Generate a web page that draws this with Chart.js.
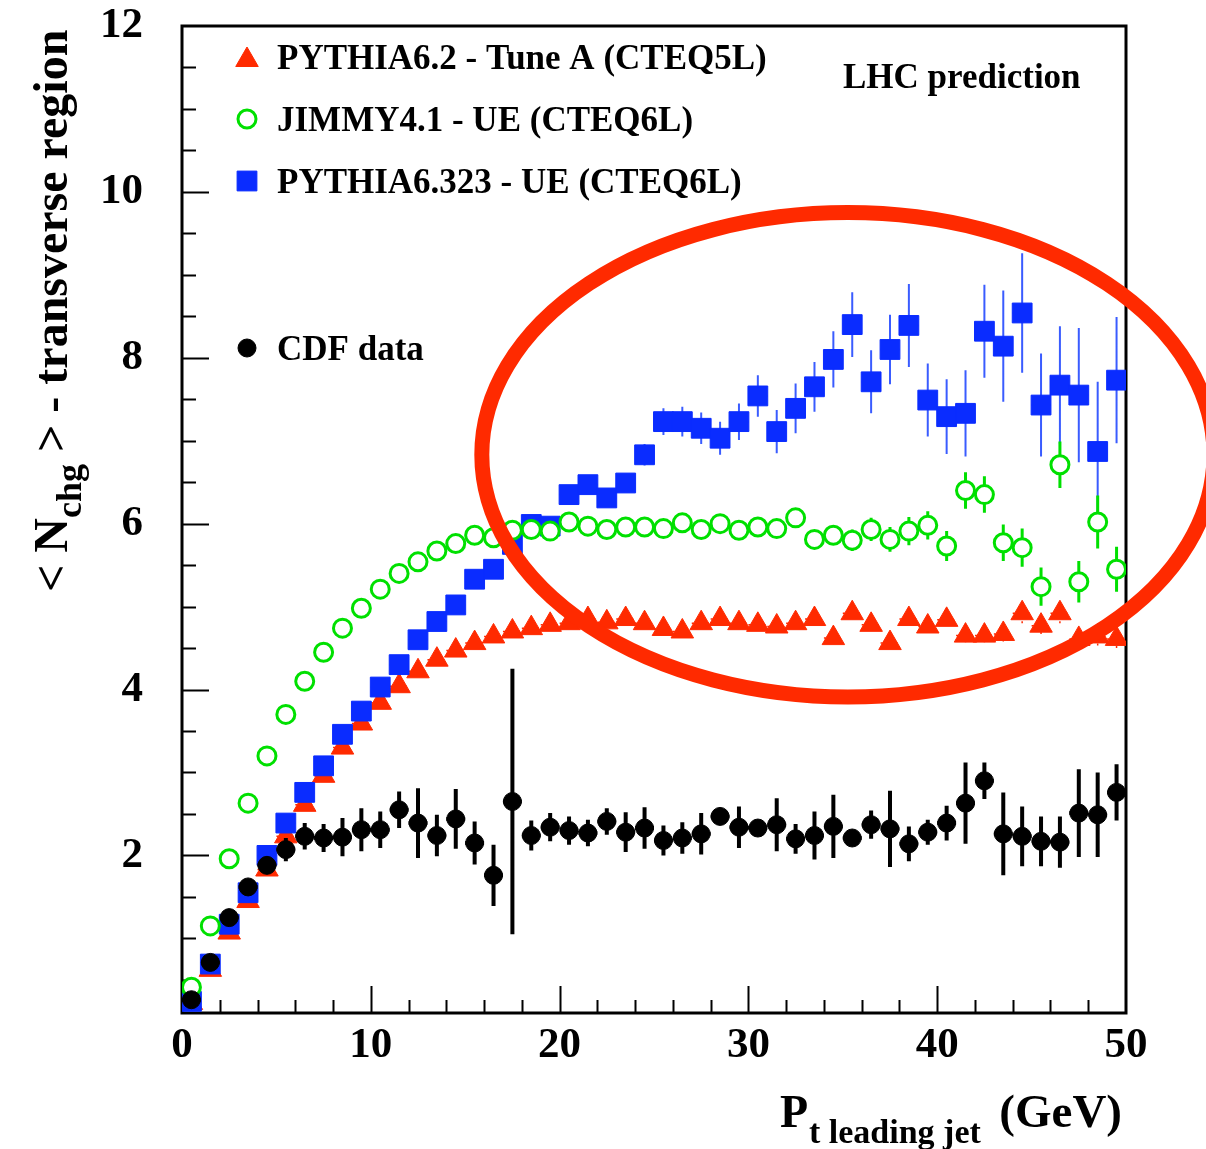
<!DOCTYPE html>
<html>
<head>
<meta charset="utf-8">
<script src="https://cdn.jsdelivr.net/npm/chart.js@4.4.0/dist/chart.umd.min.js"></script>
<style>
  body { margin: 0; background: #fff; }
  #nchg { display: block; }
</style>
</head>
<body>
<canvas id="nchg" width="1206" height="1149"></canvas>
<script>
// bin centres (GeV) of the leading-jet Pt histogram
const ptBins = [0.5, 1.5, 2.5, 3.5, 4.5, 5.5, 6.5, 7.5, 8.5, 9.5,
  10.5, 11.5, 12.5, 13.5, 14.5, 15.5, 16.5, 17.5, 18.5, 19.5,
  20.5, 21.5, 22.5, 23.5, 24.5, 25.5, 26.5, 27.5, 28.5, 29.5,
  30.5, 31.5, 32.5, 33.5, 34.5, 35.5, 36.5, 37.5, 38.5, 39.5,
  40.5, 41.5, 42.5, 43.5, 44.5, 45.5, 46.5, 47.5, 48.5, 49.5];
const binHalfWidth = 0.5;

const cdfData = [0.26, 0.71, 1.25, 1.62, 1.88, 2.07, 2.23, 2.21, 2.22, 2.31,
  2.31, 2.55, 2.39, 2.24, 2.44, 2.15, 1.76, 2.65, 2.24, 2.34,
  2.30, 2.27, 2.41, 2.28, 2.33, 2.18, 2.21, 2.26, 2.47, 2.34,
  2.33, 2.37, 2.20, 2.24, 2.35, 2.21, 2.37, 2.32, 2.14, 2.28,
  2.39, 2.63, 2.90, 2.26, 2.23, 2.17, 2.16, 2.51, 2.49, 2.76];
const cdfErr = [0.03, 0.03, 0.04, 0.05, 0.07, 0.14, 0.16, 0.17, 0.23, 0.26,
  0.22, 0.22, 0.42, 0.25, 0.36, 0.26, 0.37, 1.60, 0.18, 0.17,
  0.17, 0.16, 0.16, 0.24, 0.25, 0.18, 0.19, 0.25, 0.07, 0.25,
  0.05, 0.32, 0.18, 0.29, 0.38, 0.07, 0.17, 0.46, 0.21, 0.15,
  0.21, 0.49, 0.22, 0.50, 0.36, 0.30, 0.31, 0.53, 0.51, 0.34];

const tuneA = [0.22, 0.62, 1.07, 1.45, 1.83, 2.23, 2.61, 2.96, 3.30, 3.59,
  3.84, 4.04, 4.22, 4.36, 4.47, 4.56, 4.64, 4.70, 4.74, 4.78,
  4.80, 4.85, 4.81, 4.85, 4.80, 4.73, 4.70, 4.80, 4.85, 4.80,
  4.78, 4.76, 4.80, 4.85, 4.62, 4.92, 4.78, 4.56, 4.85, 4.76,
  4.84, 4.65, 4.65, 4.67, 4.92, 4.77, 4.92, 4.61, 4.64, 4.61];
const tuneAErr = [0.02, 0.02, 0.03, 0.03, 0.03, 0.03, 0.03, 0.03, 0.03, 0.03,
  0.03, 0.03, 0.03, 0.03, 0.03, 0.03, 0.03, 0.03, 0.03, 0.04,
  0.04, 0.04, 0.04, 0.04, 0.04, 0.04, 0.04, 0.04, 0.05, 0.05,
  0.05, 0.05, 0.05, 0.05, 0.05, 0.06, 0.06, 0.06, 0.07, 0.07,
  0.07, 0.08, 0.08, 0.09, 0.12, 0.10, 0.12, 0.10, 0.11, 0.11];

const jimmyUE = [0.41, 1.15, 1.96, 2.63, 3.20, 3.70, 4.10, 4.45, 4.74, 4.98,
  5.21, 5.40, 5.54, 5.67, 5.76, 5.86, 5.83, 5.92, 5.93, 5.91,
  6.02, 5.97, 5.93, 5.96, 5.96, 5.94, 6.01, 5.93, 6.00, 5.92,
  5.96, 5.94, 6.07, 5.81, 5.86, 5.80, 5.93, 5.81, 5.91, 5.98,
  5.73, 6.40, 6.35, 5.77, 5.71, 5.24, 6.71, 5.30, 6.02, 5.45];
const jimmyErr = [0.02, 0.02, 0.02, 0.03, 0.03, 0.03, 0.03, 0.03, 0.03, 0.03,
  0.03, 0.03, 0.04, 0.04, 0.04, 0.04, 0.04, 0.05, 0.05, 0.05,
  0.05, 0.05, 0.06, 0.06, 0.06, 0.06, 0.07, 0.07, 0.07, 0.07,
  0.08, 0.08, 0.08, 0.10, 0.10, 0.13, 0.14, 0.15, 0.17, 0.17,
  0.18, 0.22, 0.22, 0.22, 0.23, 0.23, 0.28, 0.25, 0.32, 0.27];

const pythia323 = [0.24, 0.69, 1.17, 1.55, 2.00, 2.39, 2.76, 3.08, 3.46, 3.74,
  4.03, 4.30, 4.60, 4.82, 5.02, 5.33, 5.45, 5.75, 5.99, 5.97,
  6.35, 6.47, 6.31, 6.49, 6.83, 7.23, 7.23, 7.15, 7.03, 7.23,
  7.54, 7.11, 7.39, 7.65, 7.98, 8.40, 7.71, 8.10, 8.39, 7.49,
  7.29, 7.33, 8.32, 8.14, 8.54, 7.43, 7.67, 7.55, 6.87, 7.73];
const pythia323Err = [0.02, 0.02, 0.03, 0.03, 0.03, 0.03, 0.03, 0.04, 0.04, 0.04,
  0.04, 0.04, 0.05, 0.05, 0.05, 0.05, 0.06, 0.06, 0.06, 0.07,
  0.08, 0.08, 0.09, 0.10, 0.13, 0.16, 0.18, 0.19, 0.20, 0.22,
  0.25, 0.26, 0.30, 0.30, 0.34, 0.39, 0.38, 0.42, 0.50, 0.44,
  0.45, 0.52, 0.56, 0.67, 0.72, 0.62, 0.71, 0.81, 0.84, 0.76];

const xTickLabels = [0, 10, 20, 30, 40, 50];
const yTickLabels = [2, 4, 6, 8, 10, 12];
const xMinorStep = 2;
const yMinorStep = 0.5;

// hand-drawn highlight ellipse, in data units (centre Pt, centre Nchg, half-widths)
const highlight = { x: 35.27, y: 6.83, rx: 19.39, ry: 2.92 };

const serif = '"Liberation Serif", "Times New Roman", serif';

function points(vals) {
  return ptBins.map((x, i) => ({ x: x, y: vals[i] }));
}

// error bars as broken line segments (vertical + horizontal half-bin)
function errorBars(vals, errs, withX) {
  const out = [];
  ptBins.forEach((x, i) => {
    out.push({ x: x, y: vals[i] - errs[i] }, { x: x, y: vals[i] + errs[i] }, { x: x, y: null });
    if (withX) {
      out.push({ x: x - binHalfWidth, y: vals[i] }, { x: x + binHalfWidth, y: vals[i] }, { x: x, y: null });
    }
  });
  return out;
}

const RED = '#ff2a00';
const GREEN = '#00e000';
const BLUE = '#0a2cff';
const BLUE_ERR = '#3a5cff';

const decorations = {
  id: 'decorations',
  beforeDatasetsDraw(chart) {
    const { ctx, chartArea: a, scales: { x, y } } = chart;
    ctx.save();
    ctx.strokeStyle = '#000';
    ctx.lineWidth = 2;
    ctx.beginPath();
    for (let v = yMinorStep; v < 12; v += yMinorStep) {
      const py = Math.round(y.getPixelForValue(v)) + 0.5;
      const len = yTickLabels.includes(v) ? 27 : 14;
      ctx.moveTo(a.left, py);
      ctx.lineTo(a.left + len, py);
    }
    for (let v = xMinorStep; v < 50; v += xMinorStep) {
      const px = Math.round(x.getPixelForValue(v)) + 0.5;
      const len = xTickLabels.includes(v) ? 27 : 13;
      ctx.moveTo(px, a.bottom);
      ctx.lineTo(px, a.bottom - len);
    }
    ctx.stroke();
    ctx.lineWidth = 3;
    ctx.strokeRect(a.left, a.top, a.right - a.left, a.bottom - a.top);
    ctx.restore();
  },
  afterDraw(chart) {
    const { ctx, chartArea: a, scales: { x, y } } = chart;
    ctx.save();

    // legend
    const legend = [
      { text: 'PYTHIA6.2 - Tune A (CTEQ5L)', style: 'triangle', r: 13, fill: RED, stroke: RED, bw: 1, cy: 57 },
      { text: 'JIMMY4.1 - UE (CTEQ6L)', style: 'circle', r: 9, fill: '#fff', stroke: GREEN, bw: 3, cy: 119 },
      { text: 'PYTHIA6.323 - UE (CTEQ6L)', style: 'rect', r: 14, fill: BLUE, stroke: BLUE, bw: 1, cy: 181 },
      { text: 'CDF data', style: 'circle', r: 9, fill: '#000', stroke: '#000', bw: 1, cy: 348 }
    ];
    ctx.font = 'bold 35px ' + serif;
    ctx.textBaseline = 'alphabetic';
    ctx.textAlign = 'left';
    legend.forEach(item => {
      ctx.fillStyle = item.fill;
      ctx.strokeStyle = item.stroke;
      ctx.lineWidth = item.bw;
      Chart.helpers.drawPoint(ctx, { pointStyle: item.style, radius: item.r, rotation: 0, borderWidth: item.bw },
        a.left + 65, item.cy + (item.style === 'triangle' ? 3 : 0));
      ctx.fillStyle = '#000';
      ctx.fillText(item.text, a.left + 95, item.cy + 12);
    });

    ctx.fillText('LHC prediction', 843, 88);

    // y title
    ctx.save();
    ctx.translate(67, 592);
    ctx.rotate(-Math.PI / 2);
    let cx = 0;
    ctx.font = 'bold 48px ' + serif;
    ctx.fillText('< N', cx, 0);
    cx += ctx.measureText('< N').width;
    ctx.font = 'bold 36px ' + serif;
    ctx.fillText('chg', cx, 14);
    cx += ctx.measureText('chg').width;
    ctx.font = 'bold 48px ' + serif;
    ctx.fillText(' > - transverse region', cx, 0);
    ctx.restore();

    // x title
    ctx.font = 'bold 46px ' + serif;
    ctx.fillText('P', 780, 1127);
    ctx.font = 'bold 34px ' + serif;
    ctx.fillText('t leading jet', 809, 1143);
    ctx.font = 'bold 47px ' + serif;
    ctx.textAlign = 'right';
    ctx.fillText('(GeV)', 1122, 1127);

    // highlight ellipse
    const ex = x.getPixelForValue(highlight.x);
    const ey = y.getPixelForValue(highlight.y);
    const erx = x.getPixelForValue(highlight.x + highlight.rx) - ex;
    const ery = ey - y.getPixelForValue(highlight.y + highlight.ry);
    ctx.strokeStyle = RED;
    ctx.lineWidth = 15;
    ctx.beginPath();
    ctx.ellipse(ex, ey, erx, ery, 0, 0, Math.PI * 2);
    ctx.stroke();

    ctx.restore();
  }
};

const tickFont = { family: serif, weight: 'bold', size: 43 };

function noScalePadding(s) {
  s.paddingTop = 0;
  s.paddingBottom = 0;
  s.paddingLeft = 0;
  s.paddingRight = 0;
}

new Chart(document.getElementById('nchg'), {
  type: 'scatter',
  data: {
    datasets: [
      { label: 'CDF data', data: points(cdfData), order: 0,
        pointStyle: 'circle', pointRadius: 9, pointBackgroundColor: '#000', pointBorderColor: '#000', pointBorderWidth: 1 },
      { label: 'CDF err', data: errorBars(cdfData, cdfErr, true), order: 1, showLine: true, spanGaps: false,
        pointRadius: 0, borderColor: '#000', borderWidth: 4 },
      { label: 'JIMMY4.1 - UE (CTEQ6L)', data: points(jimmyUE), order: 2,
        pointStyle: 'circle', pointRadius: 9, pointBackgroundColor: '#fff', pointBorderColor: GREEN, pointBorderWidth: 3 },
      { label: 'JIMMY err', data: errorBars(jimmyUE, jimmyErr, false), order: 3, showLine: true, spanGaps: false,
        pointRadius: 0, borderColor: GREEN, borderWidth: 3 },
      { label: 'PYTHIA6.323 - UE (CTEQ6L)', data: points(pythia323), order: 4,
        pointStyle: 'rect', pointRadius: 14, pointBackgroundColor: BLUE, pointBorderColor: BLUE, pointBorderWidth: 1 },
      { label: 'PYTHIA6.323 err', data: errorBars(pythia323, pythia323Err, true), order: 5, showLine: true, spanGaps: false,
        pointRadius: 0, borderColor: BLUE_ERR, borderWidth: 2 },
      { label: 'PYTHIA6.2 - Tune A (CTEQ5L)', data: points(tuneA), order: 6,
        pointStyle: 'triangle', pointRadius: 13, pointBackgroundColor: RED, pointBorderColor: RED, pointBorderWidth: 1 },
      { label: 'Tune A err', data: errorBars(tuneA, tuneAErr, true), order: 7, showLine: true, spanGaps: false,
        pointRadius: 0, borderColor: RED, borderWidth: 1.5, borderDash: [2, 3] }
    ]
  },
  options: {
    responsive: false,
    animation: false,
    events: [],
    layout: { padding: { left: 0, right: 80, top: 26, bottom: 0 } },
    plugins: { legend: { display: false }, tooltip: { enabled: false } },
    scales: {
      x: {
        type: 'linear', min: 0, max: 50,
        grid: { display: false, drawTicks: false },
        border: { display: false },
        afterBuildTicks: s => { s.ticks = xTickLabels.map(v => ({ value: v })); },
        afterFit: s => { s.height = 136; noScalePadding(s); },
        ticks: { font: tickFont, color: '#000', padding: 7, maxRotation: 0, autoSkip: false }
      },
      y: {
        type: 'linear', min: 0.1, max: 12,
        grid: { display: false, drawTicks: false },
        border: { display: false },
        afterBuildTicks: s => { s.ticks = yTickLabels.map(v => ({ value: v })); },
        afterFit: s => { s.width = 182; noScalePadding(s); },
        ticks: { font: tickFont, color: '#000', padding: 39, autoSkip: false }
      }
    }
  },
  plugins: [decorations]
});
</script>
</body>
</html>
